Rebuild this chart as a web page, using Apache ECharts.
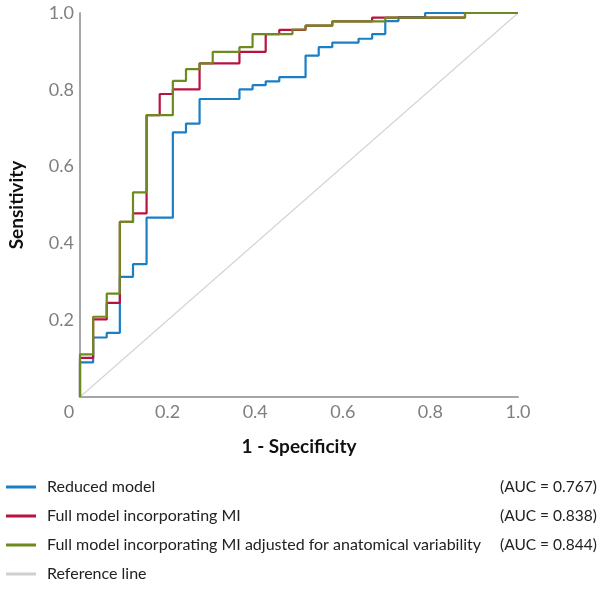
<!DOCTYPE html>
<html>
<head>
<meta charset="utf-8">
<script src="https://cdn.jsdelivr.net/npm/echarts@6/dist/echarts.min.js"></script>
<style>
  html, body { margin: 0; padding: 0; background: #fff; }
  #chart { width: 600px; height: 589px; }
</style>
</head>
<body>
<div id="chart"></div>
<script>
// ROC points: at each fpr value the curve rises to the matching tpr
const fprReduced = [0, 0, 0.030, 0.061, 0.091, 0.121, 0.152, 0.212, 0.242, 0.273, 0.364, 0.394, 0.424, 0.455, 0.515, 0.545, 0.576, 0.636, 0.667, 0.697, 0.727, 0.788, 1]
const tprReduced = [0, 0.090, 0.155, 0.167, 0.313, 0.346, 0.467, 0.689, 0.712, 0.776, 0.801, 0.812, 0.822, 0.833, 0.889, 0.911, 0.923, 0.933, 0.945, 0.979, 0.989, 1, 1]

const fprFull = [0, 0, 0.030, 0.061, 0.091, 0.121, 0.152, 0.182, 0.212, 0.273, 0.364, 0.424, 0.455, 0.515, 0.576, 0.667, 0.879, 1]
const tprFull = [0, 0.102, 0.202, 0.245, 0.456, 0.478, 0.734, 0.789, 0.801, 0.869, 0.899, 0.945, 0.956, 0.967, 0.978, 0.988, 1, 1]

const fprAdjusted = [0, 0, 0.030, 0.061, 0.091, 0.121, 0.152, 0.212, 0.242, 0.273, 0.303, 0.364, 0.394, 0.485, 0.515, 0.576, 0.697, 0.879, 1]
const tprAdjusted = [0, 0.111, 0.209, 0.269, 0.456, 0.533, 0.734, 0.823, 0.854, 0.869, 0.899, 0.911, 0.945, 0.957, 0.967, 0.978, 0.988, 1, 1]

const refX = [0, 1]
const refY = [0, 1]

const seriesNames = ['Reduced model', 'Full model incorporating MI', 'Full model incorporating MI adjusted for anatomical variability', 'Reference line']
const aucLabels = ['(AUC = 0.767)', '(AUC = 0.838)', '(AUC = 0.844)', '']

const pairs = (xs, ys) => xs.map((x, i) => [x, ys[i]])

const myChart = echarts.init(document.getElementById('chart'))
const font = 'Lato, "Open Sans", sans-serif'

const option = {
    animation: false,
    textStyle: { fontFamily: font },
    grid: { left: 80, right: 82, top: 13, bottom: 192, containLabel: false, outerBoundsMode: 'none' },
    legend: {
        data: seriesNames,
        orient: 'vertical',
        left: 1,
        top: 474,
        itemGap: 13,
        itemWidth: 30,
        itemHeight: 3,
        icon: 'rect',
        formatter: name => {
            const i = seriesNames.indexOf(name)
            return '{n|' + name + '}{a|' + aucLabels[i] + '}'
        },
        textStyle: {
            rich: {
                n: { width: 453, padding: [0, 0, 0, 6], fontSize: 16, color: '#222', fontFamily: font },
                a: { fontSize: 15.5, color: '#222', fontFamily: font }
            }
        }
    },
    xAxis: {
        type: 'value',
        min: 0,
        max: 1,
        interval: 0.2,
        name: '1 - Specificity',
        nameLocation: 'middle',
        nameGap: 40,
        nameTextStyle: { fontSize: 19, fontWeight: 'bold', color: '#111', fontFamily: font },
        axisLine: { lineStyle: { color: '#a6a6a6', width: 2 } },
        axisTick: { show: false },
        splitLine: { show: false },
        axisLabel: {
            margin: 6,
            fontSize: 18,
            color: '#7f7f7f',
            formatter: v => v === 0 ? '{z|0}' : v.toFixed(1),
            rich: { z: { padding: [0, 22, 0, 0], fontSize: 18, color: '#7f7f7f' } }
        }
    },
    yAxis: {
        type: 'value',
        min: 0,
        max: 1,
        interval: 0.2,
        name: 'Sensitivity',
        nameLocation: 'middle',
        nameGap: 54,
        nameRotate: 90,
        nameTextStyle: { fontSize: 19, fontWeight: 'bold', color: '#111', fontFamily: font },
        axisLine: { show: true, lineStyle: { color: '#a6a6a6', width: 2 } },
        axisTick: { show: false },
        splitLine: { show: false },
        axisLabel: {
            margin: 6,
            fontSize: 18,
            color: '#7f7f7f',
            formatter: v => v === 0 ? '' : v.toFixed(1)
        }
    },
    series: [
        {
            name: seriesNames[3],
            type: 'line',
            data: pairs(refX, refY),
            symbol: 'none',
            lineStyle: { color: '#d4d4d4', width: 1.2 },
            itemStyle: { color: '#cfcfcf' }
        },
        {
            name: seriesNames[0],
            type: 'line',
            step: 'end',
            data: pairs(fprReduced, tprReduced),
            symbol: 'none',
            lineStyle: { color: '#1c7fc6', width: 2.2 },
            itemStyle: { color: '#1c7fc6' }
        },
        {
            name: seriesNames[1],
            type: 'line',
            step: 'end',
            data: pairs(fprFull, tprFull),
            symbol: 'none',
            lineStyle: { color: '#b8123f', width: 2.2 },
            itemStyle: { color: '#b8123f' }
        },
        {
            name: seriesNames[2],
            type: 'line',
            step: 'end',
            data: pairs(fprAdjusted, tprAdjusted),
            symbol: 'none',
            lineStyle: { color: '#6d8a1f', width: 2.2 },
            itemStyle: { color: '#6d8a1f' }
        }
    ]
}
myChart.setOption(option)
</script>
</body>
</html>
